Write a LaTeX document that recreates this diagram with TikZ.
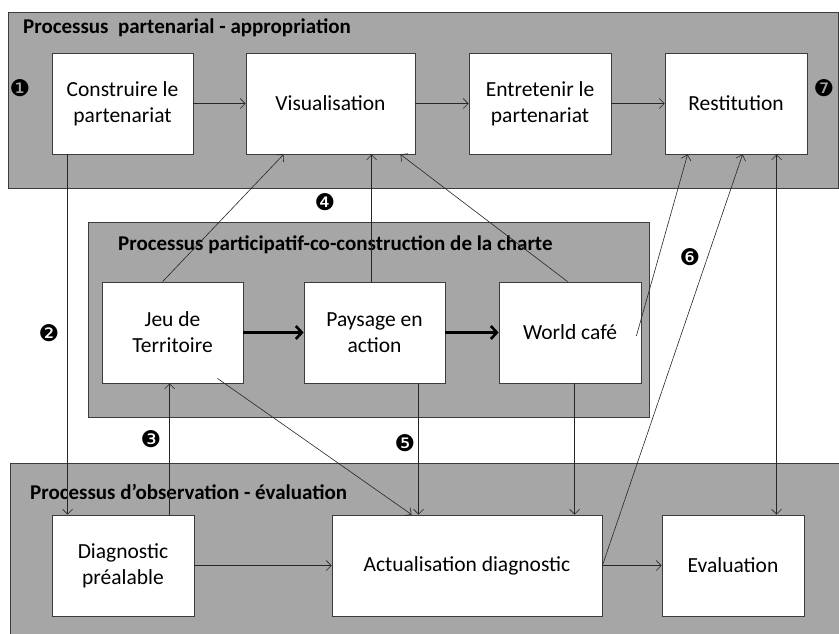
\documentclass[tikz,border=0pt]{standalone}
\usepackage{fontspec}
\setmainfont{Carlito}
\newfontfamily\dingfont{DejaVu Sans}
\usetikzlibrary{arrows.meta,calc}
\definecolor{panelgray}{HTML}{A6A6A6}
\definecolor{edgegray}{HTML}{3C3C3C}
\begin{document}
\begin{tikzpicture}[x=1pt,y=-1pt,
  panel/.style={draw=edgegray, line width=0.8pt, fill=panelgray},
  box/.style={draw=edgegray, line width=0.8pt, fill=white, inner sep=0pt, align=center,
    minimum height=101pt, font=\fontsize{21.5}{26}\selectfont},
  ptitle/.style={anchor=west, inner sep=0pt, font=\fontsize{21}{24}\selectfont\bfseries},
  num/.style={inner sep=0pt, font=\fontsize{23}{23}\selectfont\dingfont},
  arr/.style={draw=black!85, line width=0.6pt, -{Straight Barb[length=5pt,width=10pt]}},
  darr/.style={draw=black!85, line width=0.6pt, {Straight Barb[length=5pt,width=10pt]}-{Straight Barb[length=5pt,width=10pt]}},
  thick arr/.style={draw=black, line width=2.6pt, -{Straight Barb[length=6pt,width=13pt,line width=2.6pt]}}
]
\useasboundingbox (0,0) rectangle (839,633);
\fill[white] (0,0) rectangle (839,633);
% panels
\path[panel] (8,12) rectangle (838,188);
\path[panel] (88,222) rectangle (649,417);
\path[panel] (10,463) rectangle (845,645);
% titles
\node[ptitle] (t1) at (23,28) {Processus\ \ partenarial - appropriation};
\node[ptitle] (t2) at (118,245) {Processus participatif-co-construction de la charte};
\node[ptitle] (t3) at (30,492) {Processus d’observation - évaluation};
% boxes
\node[box, minimum width=141pt] (cons) at (122.5,103.5) {Construire le\\partenariat};
\node[box, minimum width=169pt] (vis) at (330.5,103.5) {Visualisation};
\node[box, minimum width=142pt] (ent) at (540,103.5) {Entretenir le\\partenariat};
\node[box, minimum width=142pt] (res) at (736,103.5) {Restitution};
\node[box, minimum width=141pt] (jeu) at (172.5,332.5) {Jeu de\\Territoire};
\node[box, minimum width=141pt] (pay) at (374.5,332.5) {Paysage en\\action};
\node[box, minimum width=142pt] (wor) at (570,332.5) {World café};
\node[box, minimum width=142pt] (dia) at (123,565.5) {Diagnostic\\préalable};
\node[box, minimum width=270pt] (act) at (467,565.5) {Actualisation diagnostic};
\node[box, minimum width=142pt] (eva) at (733,565.5) {Evaluation};
% numbers
\node[num] (n1) at (20,88) {❶};
\node[num] (n2) at (49,333) {❷};
\node[num] (n3) at (151,439) {❸};
\node[num] (n4) at (325,202) {❹};
\node[num] (n5) at (405,443) {❺};
\node[num] (n6) at (690,257) {❻};
\node[num] (n7) at (824,88) {❼};
% horizontal arrows
\draw[arr] (cons.east) -- (vis.west);
\draw[arr] (vis.east) -- (ent.west);
\draw[arr] (ent.east) -- (res.west);
\draw[arr] (dia.east) -- (act.west);
\draw[arr] (act.east) -- (eva.west);
\draw[thick arr] (jeu.east) -- (pay.west);
\draw[thick arr] (pay.east) -- (wor.west);
% vertical / oblique arrows
\draw[arr] ([xshift=16pt]cons.south west) -- ([xshift=16pt]dia.north west);
\draw[arr] ([xshift=118pt]dia.north west) -- ([xshift=68pt]jeu.south west);
\draw[arr] ([xshift=61pt]jeu.north west) -- ([xshift=38pt]vis.south west);
\draw[arr] ([xshift=68pt]pay.north west) -- ([xshift=126pt]vis.south west);
\draw[arr] ([xshift=69pt]wor.north west) -- ([xshift=-15pt]vis.south east);
\draw[arr] ([xshift=-26pt,yshift=5pt]jeu.south east) -- ([xshift=80pt]act.north west);
\draw[arr] ([xshift=115pt]pay.south west) -- ([xshift=87pt]act.north west);
\draw[arr] ([xshift=76pt]wor.south west) -- ([xshift=243pt]act.north west);
\draw[arr] ([xshift=-5pt,yshift=-3.5pt]wor.east) -- ([xshift=23pt]res.south west);
\draw[arr] (act.east) -- ([xshift=78pt]res.south west);
\draw[darr] ([xshift=112pt]res.south west) -- ([xshift=115pt]eva.north west);
\end{tikzpicture}
\end{document}
